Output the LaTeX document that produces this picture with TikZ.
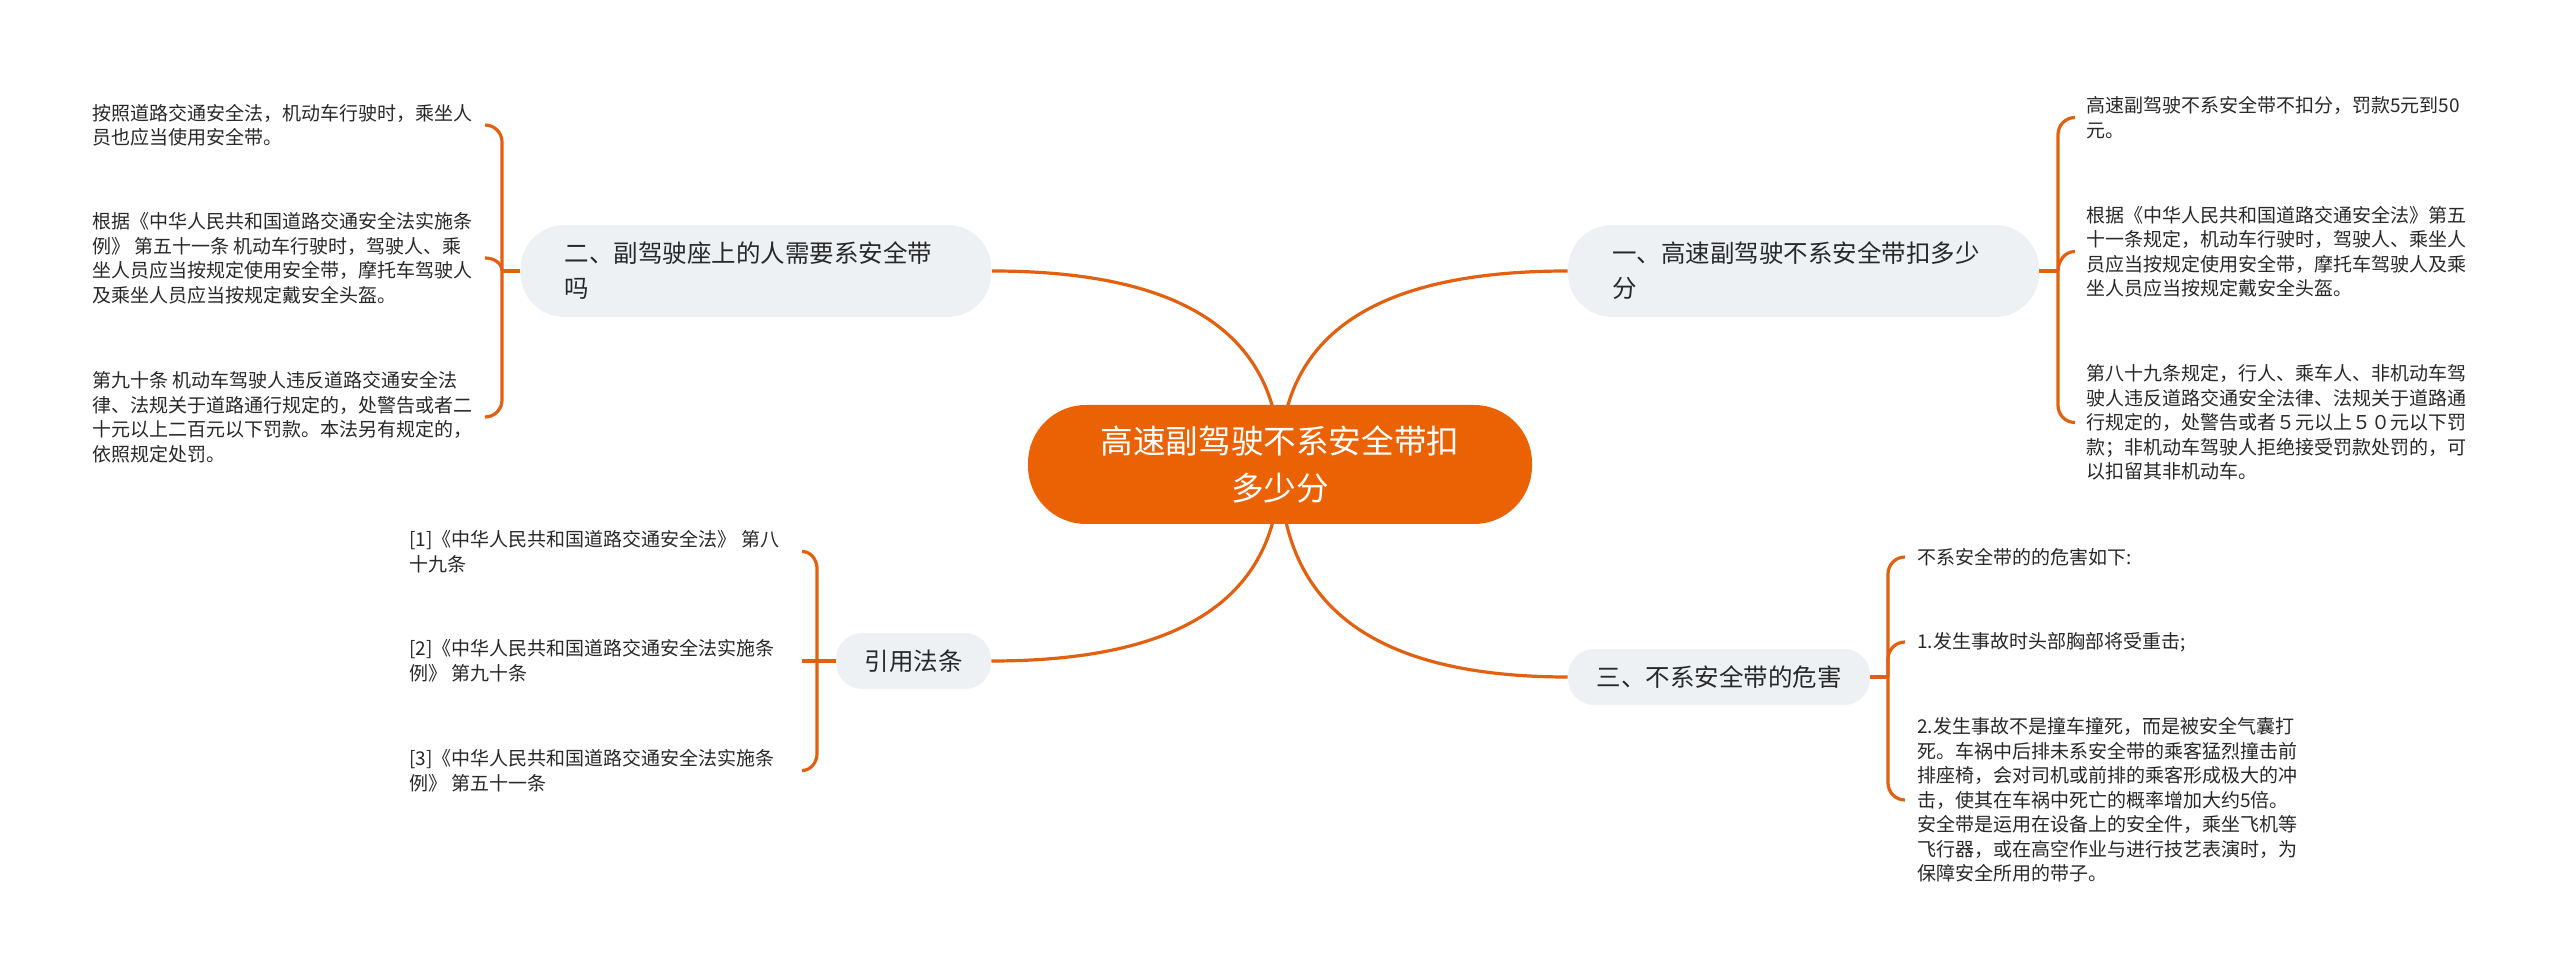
\documentclass[tikz,border=0pt]{standalone}
\usepackage{fontspec}
\setmainfont{Noto Sans CJK SC}
\usetikzlibrary{calc,backgrounds}
\definecolor{mainor}{RGB}{235,98,4}
\definecolor{lineor}{RGB}{226,97,16}
\definecolor{subfill}{RGB}{238,241,244}
\definecolor{txt}{RGB}{40,40,40}
\tikzset{
  conn/.style={draw=lineor, line width=1.6pt},
  rootbox/.style={fill=mainor, text=white, rounded corners=29pt, minimum width=252pt,
    minimum height=59.5pt, inner sep=0pt, align=center,
    font=\fontsize{16.3pt}{23.5pt}\selectfont},
  subtwo/.style={fill=subfill, text=txt, rounded corners=22pt, inner xsep=22pt, inner ysep=0pt,
    text width=191.5pt, minimum height=46pt, align=left,
    font=\fontsize{12.25pt}{17.5pt}\selectfont},
  subone/.style={fill=subfill, text=txt, rounded corners=13pt, inner sep=0pt,
    minimum height=28pt, align=center,
    font=\fontsize{12.25pt}{17.5pt}\selectfont},
  leaf/.style={inner sep=0pt, anchor=west, align=left, text=txt,
    font=\fontsize{9.5pt}{12.25pt}\selectfont},
}
\begin{document}
\begin{tikzpicture}[x=0.5pt,y=-0.5pt]
\useasboundingbox (0,0) rectangle (2560,977);

% central and main topics
\node[rootbox] (root) at (1280,464.5) {高速副驾驶不系安全带扣\\多少分};
\node[subtwo] (n1) at (1803.5,271) {一、高速副驾驶不系安全带扣多少\\分};
\node[subtwo] (n2) at (756,271) {二、副驾驶座上的人需要系安全带\\吗};
\node[subone, minimum width=151pt] (n3) at (1719,677) {三、不系安全带的危害};
\node[subone, minimum width=77.5pt] (n4) at (913.5,661) {引用法条};

% leaves of n2 (left top)
\node[leaf] (L1) at (92,125) {按照道路交通安全法，机动车行驶时，乘坐人\\员也应当使用安全带。};
\node[leaf] (L2) at (92,258) {根据《中华人民共和国道路交通安全法实施条\\例》 第五十一条 机动车行驶时，驾驶人、乘\\坐人员应当按规定使用安全带，摩托车驾驶人\\及乘坐人员应当按规定戴安全头盔。};
\node[leaf] (L3) at (92,417) {第九十条 机动车驾驶人违反道路交通安全法\\律、法规关于道路通行规定的，处警告或者二\\十元以上二百元以下罚款。本法另有规定的，\\依照规定处罚。};

% leaves of n1 (right top)
\node[leaf] (R1) at (2086,117.5) {高速副驾驶不系安全带不扣分，罚款5元到50\\元。};
\node[leaf] (R2) at (2086,251.5) {根据《中华人民共和国道路交通安全法》第五\\十一条规定，机动车行驶时，驾驶人、乘坐人\\员应当按规定使用安全带，摩托车驾驶人及乘\\坐人员应当按规定戴安全头盔。};
\node[leaf] (R3) at (2086,422.5) {第八十九条规定，行人、乘车人、非机动车驾\\驶人违反道路交通安全法律、法规关于道路通\\行规定的，处警告或者５元以上５０元以下罚\\款；非机动车驾驶人拒绝接受罚款处罚的，可\\以扣留其非机动车。};

% leaves of n3 (right bottom)
\node[leaf] (B1) at (1917,557) {不系安全带的的危害如下:};
\node[leaf] (B2) at (1917,642) {1.发生事故时头部胸部将受重击;};
\node[leaf] (B3) at (1917,800) {2.发生事故不是撞车撞死，而是被安全气囊打\\死。车祸中后排未系安全带的乘客猛烈撞击前\\排座椅，会对司机或前排的乘客形成极大的冲\\击，使其在车祸中死亡的概率增加大约5倍。\\安全带是运用在设备上的安全件，乘坐飞机等\\飞行器，或在高空作业与进行技艺表演时，为\\保障安全所用的带子。};

% leaves of n4 (left bottom)
\node[leaf] (C1) at (409,551.5) {[1]《中华人民共和国道路交通安全法》 第八\\十九条};
\node[leaf] (C2) at (409,660.5) {[2]《中华人民共和国道路交通安全法实施条\\例》 第九十条};
\node[leaf] (C3) at (409,770.5) {[3]《中华人民共和国道路交通安全法实施条\\例》 第五十一条};

% junctions and curl ends
\coordinate (jL) at (502,271);
\coordinate (jR) at (2058,271);
\coordinate (jB) at (1888,677);
\coordinate (jC) at (817,661);
\coordinate (eL1) at (485,125);
\coordinate (eL2) at (485,258);
\coordinate (eL3) at (485,417);
\coordinate (eR1) at (2075,117.5);
\coordinate (eR2) at (2075,251.5);
\coordinate (eR3) at (2075,422.5);
\coordinate (eB1) at (1905,557);
\coordinate (eB2) at (1905,642);
\coordinate (eB3) at (1905,800);
\coordinate (eC1) at (802,551.5);
\coordinate (eC2) at (802,661);
\coordinate (eC3) at (802,770.5);

\begin{scope}[on background layer]
\fill[white] (0,0) rectangle (2560,977);
% root to main topics
\draw[conn] (root.center) .. controls ($(root.center)!0.69!(root.center |- n2.east)$) and ($(n2.east)!0.65!(n2.east -| root.center)$) .. (n2.east);
\draw[conn] (root.center) .. controls ($(root.center)!0.69!(root.center |- n1.west)$) and ($(n1.west)!0.65!(n1.west -| root.center)$) .. (n1.west);
\draw[conn] (root.center) .. controls ($(root.center)!0.69!(root.center |- n4.east)$) and ($(n4.east)!0.65!(n4.east -| root.center)$) .. (n4.east);
\draw[conn] (root.center) .. controls ($(root.center)!0.69!(root.center |- n3.west)$) and ($(n3.west)!0.65!(n3.west -| root.center)$) .. (n3.west);
\end{scope}

% brackets
\draw[conn] (n2.west) -- (jL);
\draw[conn] (jL) -- (502,142) to[out=90,in=0] (eL1);
\draw[conn] (jL) to[out=90,in=0] (eL2);
\draw[conn] (jL) -- (502,400) to[out=-90,in=0] (eL3);

\draw[conn] (n1.east) -- (jR);
\draw[conn] (jR) -- (2058,134.5) to[out=90,in=180] (eR1);
\draw[conn] (jR) to[out=90,in=180] (eR2);
\draw[conn] (jR) -- (2058,405.5) to[out=-90,in=180] (eR3);

\draw[conn] (n3.east) -- (jB);
\draw[conn] (jB) -- (1888,574) to[out=90,in=180] (eB1);
\draw[conn] (jB) -- (1888,659) to[out=90,in=180] (eB2);
\draw[conn] (jB) -- (1888,783) to[out=-90,in=180] (eB3);

\draw[conn] (n4.west) -- (jC);
\draw[conn] (jC) -- (817,568.5) to[out=90,in=0] (eC1);
\draw[conn] (jC) -- (eC2);
\draw[conn] (jC) -- (817,753.5) to[out=-90,in=0] (eC3);
\end{tikzpicture}
\end{document}
